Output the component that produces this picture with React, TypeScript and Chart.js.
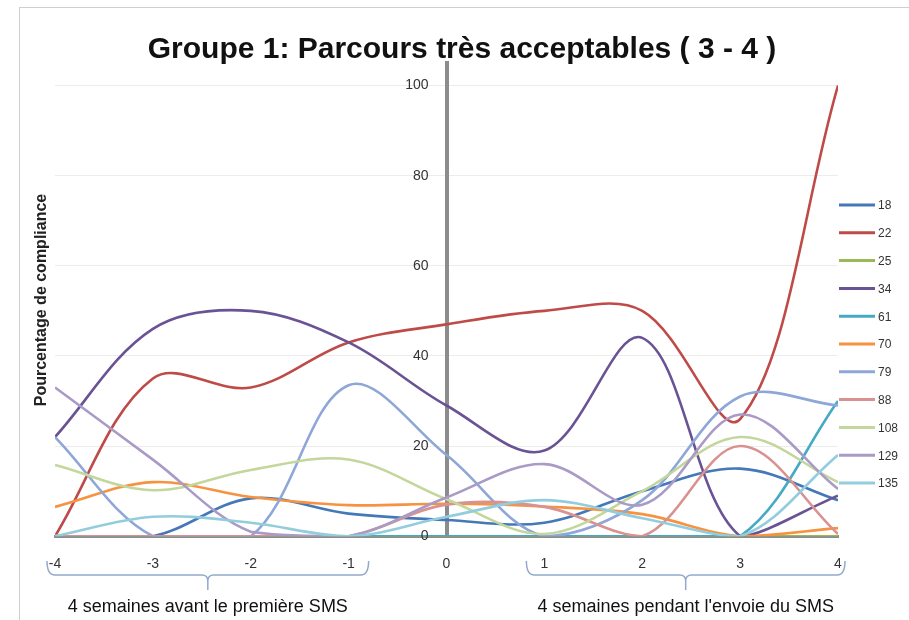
import React, { useEffect, useRef } from "react";
import { Chart, registerables } from "chart.js";

Chart.register(...registerables);

const TITLE = "Groupe 1: Parcours très acceptables ( 3 - 4 )";
const Y_TITLE = "Pourcentage de compliance";
const WEEKS = [-4, -3, -2, -1, 0, 1, 2, 3, 4];
const Y_TICKS = [0, 20, 40, 60, 80, 100];

const SERIES_LABELS = ["18", "22", "25", "34", "61", "70", "79", "88", "108", "129", "135"];
const P18 = [0, 0, 8.4, 5, 3.6, 3, 10, 15, 8];
const P22 = [0, 35, 33, 43, 47, 50, 50, 26, 100];
const P25 = [0, 0, 0, 0, 0, 0, 0, 0, 0];
const P34 = [22, 46, 50, 43, 29, 19, 44, 0, 9];
const P61 = [0, 0, 0, 0, 0, 0, 0, 0, 30];
const P70 = [6.5, 12, 8.7, 6.9, 7.2, 6.6, 4.9, 0, 1.8];
const P79 = [22, 0, 0, 33.5, 18, 0, 8, 31, 29];
const P88 = [0, 0, 0, 0, 7, 6.5, 0, 20, 0.5];
const P108 = [15.8, 10.2, 14.7, 17, 8.2, 0.5, 10, 22, 12];
const P129 = [33, 17, 1, 0, 8.6, 16, 7, 27, 10.5];
const P135 = [0, 4.3, 3, 0, 4.3, 8, 4, 0, 18];
const SERIES_VALUES = [P18, P22, P25, P34, P61, P70, P79, P88, P108, P129, P135];
const SERIES_COLORS = [
  "#4478B8", "#BE4B48", "#98B954", "#6A5394", "#46AAC5", "#F69240",
  "#8FA6D8", "#D9928F", "#C3D69B", "#A99BC6", "#93CDDD",
];

const PERIOD_LABELS = ["4 semaines avant le première SMS", "4 semaines pendant l'envoie du SMS"];
const PERIOD_FROM = [-4, 1];
const PERIOD_TO = [-1, 4];

const FONT = "'Liberation Sans', Arial, sans-serif";

const decorations = {
  id: "decorations",
  beforeDraw(chart: any) {
    const ctx = chart.ctx;
    ctx.save();
    ctx.fillStyle = "#ffffff";
    ctx.fillRect(0, 0, chart.width, chart.height);
    ctx.strokeStyle = "#cfcfcf";
    ctx.lineWidth = 1;
    ctx.strokeRect(19.5, 7.5, chart.width, chart.height);
    ctx.restore();
  },
  afterDraw(chart: any) {
    const { ctx, chartArea, scales } = chart;
    const xs = scales.x;
    const ys = scales.y;
    ctx.save();
    // title
    ctx.fillStyle = "#111111";
    ctx.font = `bold 30px ${FONT}`;
    ctx.textAlign = "center";
    ctx.textBaseline = "middle";
    ctx.fillText(TITLE, 462, 50);
    // y axis title
    ctx.save();
    ctx.translate(42, 300);
    ctx.rotate(-Math.PI / 2);
    ctx.font = `bold 16px ${FONT}`;
    ctx.fillStyle = "#222222";
    ctx.fillText(Y_TITLE, 0, 0);
    ctx.restore();
    // y tick labels, left of the centred axis
    const axisX = xs.getPixelForValue(0);
    ctx.font = `14px ${FONT}`;
    ctx.fillStyle = "#333333";
    ctx.textAlign = "right";
    ctx.textBaseline = "middle";
    Y_TICKS.forEach((v) => {
      ctx.fillText(String(v), axisX - 18, ys.getPixelForValue(v));
    });
    // legend
    chart.data.datasets.forEach((ds: any, i: number) => {
      const y = 205 + i * 27.8;
      ctx.strokeStyle = ds.borderColor;
      ctx.lineWidth = 3;
      ctx.lineCap = "butt";
      ctx.beginPath();
      ctx.moveTo(chartArea.right + 1, y);
      ctx.lineTo(chartArea.right + 37, y);
      ctx.stroke();
      ctx.fillStyle = "#333333";
      ctx.font = `12px ${FONT}`;
      ctx.textAlign = "left";
      ctx.textBaseline = "middle";
      ctx.fillText(ds.label, chartArea.right + 40, y + 1);
    });
    // brackets
    const offs = [[-8, 20], [-18, 7]];
    PERIOD_LABELS.forEach((label, i) => {
      const x0 = xs.getPixelForValue(PERIOD_FROM[i]) + offs[i][0];
      const x1 = xs.getPixelForValue(PERIOD_TO[i]) + offs[i][1];
      const mid = (x0 + x1) / 2;
      const yTop = 561, yLine = 575, yTip = 590;
      ctx.strokeStyle = "#93a9cc";
      ctx.lineWidth = 1.5;
      ctx.beginPath();
      ctx.moveTo(x0, yTop);
      ctx.quadraticCurveTo(x0, yLine, x0 + 8, yLine);
      ctx.lineTo(mid - 6, yLine);
      ctx.quadraticCurveTo(mid, yLine, mid, yLine + 6);
      ctx.lineTo(mid, yTip);
      ctx.moveTo(mid, yLine + 6);
      ctx.quadraticCurveTo(mid, yLine, mid + 6, yLine);
      ctx.lineTo(x1 - 8, yLine);
      ctx.quadraticCurveTo(x1, yLine, x1, yTop);
      ctx.stroke();
      ctx.fillStyle = "#111111";
      ctx.font = `18px ${FONT}`;
      ctx.textAlign = "center";
      ctx.textBaseline = "middle";
      ctx.fillText(label, mid, 607);
    });
    ctx.restore();
  },
};

export default function App() {
  const ref = useRef<HTMLCanvasElement | null>(null);
  useEffect(() => {
    if (!ref.current) return;
    const chart = new Chart(ref.current, {
      type: "line",
      data: {
        datasets: SERIES_LABELS.map((label, i) => ({
          label,
          data: WEEKS.map((w, j) => ({ x: w, y: SERIES_VALUES[i][j] })),
          borderColor: SERIES_COLORS[i],
          backgroundColor: SERIES_COLORS[i],
          borderWidth: 2.6,
          pointRadius: 0,
          tension: 0.35,
          fill: false,
          order: SERIES_LABELS.length - i,
        })),
      },
      options: {
        responsive: false,
        animation: false,
        devicePixelRatio: 1,
        layout: { padding: { top: 63, left: 55, right: 71, bottom: 27 } },
        plugins: {
          legend: { display: false },
          tooltip: { enabled: false },
          title: { display: false },
        },
        scales: {
          x: {
            type: "linear",
            min: -4,
            max: 4,
            position: "bottom",
            afterBuildTicks: (s: any) => {
              s.ticks = WEEKS.map((v) => ({ value: v }));
            },
            ticks: {
              padding: 20,
              color: "#333333",
              font: { size: 14, family: FONT },
              callback: (v: any) => String(v),
              maxRotation: 0,
              autoSkip: false,
            },
            grid: { display: false, drawTicks: false },
            border: { display: true, color: "#8c8c8c", width: 3 },
          },
          y: {
            type: "linear",
            min: 0,
            max: 105,
            position: { x: 0 },
            afterBuildTicks: (s: any) => {
              s.ticks = Y_TICKS.map((v) => ({ value: v }));
            },
            ticks: { display: false },
            grid: { color: "#ececec", lineWidth: 1, drawTicks: false },
            border: { display: true, color: "#8c8c8c", width: 4 },
          },
        },
      } as any,
      plugins: [decorations],
    });
    return () => chart.destroy();
  }, []);
  return (
    <div style={{ position: "absolute", left: 0, top: 0, width: 909, height: 620 }}>
      <canvas ref={ref} width={909} height={620} />
    </div>
  );
}
